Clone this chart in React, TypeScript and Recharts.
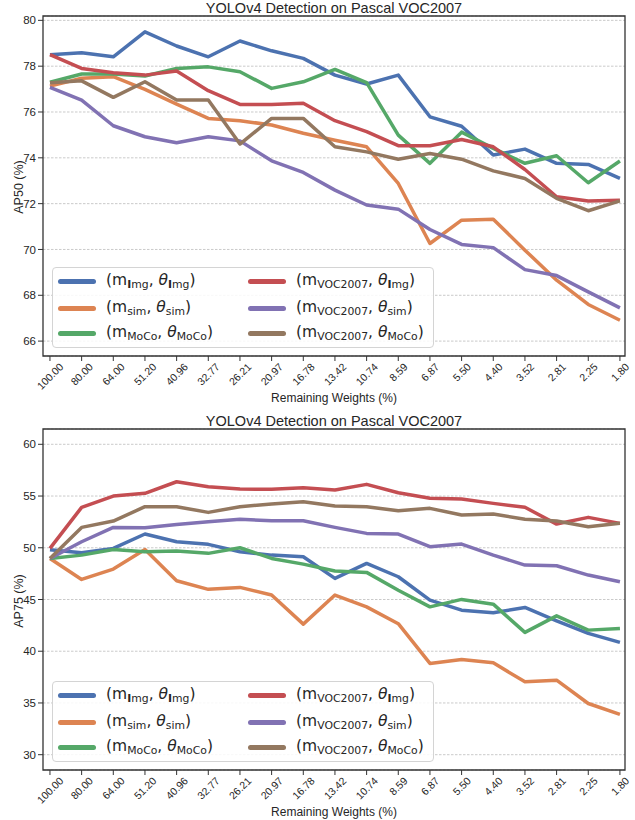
import React from "react";
import { LineChart, Line, XAxis, YAxis, CartesianGrid, ReferenceArea } from "recharts";

// remaining weights (%) — x categories
const xLabels = ["100.00", "80.00", "64.00", "51.20", "40.96", "32.77", "26.21", "20.97", "16.78", "13.42", "10.74", "8.59", "6.87", "5.50", "4.40", "3.52", "2.81", "2.25", "1.80"];

// AP50 (%)
const ap50ImgImg = [78.5, 78.59, 78.41, 79.5, 78.88, 78.41, 79.1, 78.67, 78.34, 77.61, 77.22, 77.61, 75.79, 75.38, 74.12, 74.38, 73.76, 73.71, 73.1];
const ap50SimSim = [77.13, 77.47, 77.54, 76.99, 76.34, 75.72, 75.62, 75.43, 75.07, 74.77, 74.48, 72.88, 70.26, 71.28, 71.32, 69.97, 68.66, 67.6, 66.91];
const ap50MocoMoco = [77.3, 77.66, 77.66, 77.57, 77.9, 77.97, 77.76, 77.03, 77.32, 77.86, 77.28, 74.99, 73.76, 75.12, 74.41, 73.76, 74.09, 72.91, 73.86];
const ap50VocImg = [78.5, 77.9, 77.71, 77.61, 77.79, 76.93, 76.33, 76.33, 76.38, 75.62, 75.14, 74.53, 74.53, 74.8, 74.48, 73.49, 72.3, 72.12, 72.15];
const ap50VocSim = [77.07, 76.52, 75.4, 74.92, 74.66, 74.92, 74.74, 73.87, 73.36, 72.59, 71.94, 71.76, 70.87, 70.22, 70.08, 69.12, 68.86, 68.15, 67.45];
const ap50VocMoco = [77.28, 77.36, 76.64, 77.32, 76.52, 76.52, 74.6, 75.72, 75.72, 74.48, 74.26, 73.94, 74.19, 73.94, 73.43, 73.1, 72.23, 71.69, 72.12];

// AP75 (%)
const ap75ImgImg = [49.8, 49.52, 49.94, 51.33, 50.58, 50.33, 49.61, 49.29, 49.13, 47.04, 48.49, 47.2, 44.94, 43.97, 43.71, 44.23, 42.94, 41.72, 40.85];
const ap75SimSim = [48.97, 46.94, 47.94, 49.84, 46.81, 45.98, 46.17, 45.43, 42.62, 45.43, 44.29, 42.66, 38.82, 39.21, 38.88, 37.04, 37.2, 34.95, 33.89];
const ap75MocoMoco = [48.97, 49.29, 49.84, 49.61, 49.68, 49.46, 50.0, 48.97, 48.42, 47.75, 47.62, 45.9, 44.29, 45.01, 44.55, 41.82, 43.42, 42.04, 42.2];
const ap75VocImg = [49.94, 53.91, 55.0, 55.26, 56.38, 55.9, 55.68, 55.65, 55.8, 55.58, 56.13, 55.32, 54.78, 54.71, 54.29, 53.91, 52.29, 52.94, 52.36];
const ap75VocSim = [48.97, 50.58, 51.97, 51.94, 52.26, 52.52, 52.75, 52.61, 52.61, 51.97, 51.39, 51.33, 50.1, 50.36, 49.29, 48.33, 48.26, 47.36, 46.71];
const ap75VocMoco = [48.97, 51.97, 52.58, 53.97, 53.97, 53.42, 53.97, 54.23, 54.45, 54.03, 53.97, 53.58, 53.81, 53.16, 53.26, 52.75, 52.58, 52.03, 52.36];

const ap50Ticks = [66, 68, 70, 72, 74, 76, 78, 80];
const ap75Ticks = [30, 35, 40, 45, 50, 55, 60];

const series = [
  { key: "imgImg", color: "#4C72B0", m: "Img", t: "Img" },
  { key: "simSim", color: "#DD8452", m: "sim", t: "sim" },
  { key: "mocoMoco", color: "#55A868", m: "MoCo", t: "MoCo" },
  { key: "vocImg", color: "#C44E52", m: "VOC2007", t: "Img" },
  { key: "vocSim", color: "#8172B3", m: "VOC2007", t: "sim" },
  { key: "vocMoco", color: "#937860", m: "VOC2007", t: "MoCo" },
];

const buildRows = (cols: number[][]) =>
  xLabels.map((_, i) => {
    const row: Record<string, number> = { i };
    series.forEach((s, k) => { row[s.key] = cols[k][i]; });
    return row;
  });

const ap50Rows = buildRows([ap50ImgImg, ap50SimSim, ap50MocoMoco, ap50VocImg, ap50VocSim, ap50VocMoco]);
const ap75Rows = buildRows([ap75ImgImg, ap75SimSim, ap75MocoMoco, ap75VocImg, ap75VocSim, ap75VocMoco]);

const xDomain: [number, number] = [-0.22, 18.16];
const xTicks = xLabels.map((_, i) => i);
const ink = "#262626";

function XTick({ x, y, payload }: any) {
  const label = xLabels[payload.value];
  const fs = 10.5;
  const w = [...label].reduce((s, c) => s + (c === "." ? 0.278 : 0.556), 0) * fs;
  const half = (w + fs * 0.72) / Math.SQRT2 / 2;
  const cy = y + half;
  return (
    <text x={x} y={cy} transform={`rotate(-45 ${x} ${cy})`} textAnchor="middle"
      dominantBaseline="central" fontSize={fs} fill={ink}>{label}</text>
  );
}

function Sub({ text }: { text: string }) {
  // the "I" of Img comes out heavy in the original
  const first = text === "Img" ? <b>I</b> : null;
  return (
    <span style={{ fontSize: "0.7em", position: "relative", top: "0.3em" }}>
      {first}{text === "Img" ? "mg" : text}
    </span>
  );
}

function LegendBox({ left, top }: { left: number; top: number }) {
  const rowY = [13, 40, 65];
  return (
    <div style={{
      position: "absolute", left, top, width: 382, height: 81, boxSizing: "border-box",
      border: "1px solid #d4d4d4", borderRadius: 4, background: "rgba(255,255,255,0.85)",
    }}>
      {series.map((s, k) => {
        const col = Math.floor(k / 3);
        const cy = rowY[k % 3];
        return (
          <div key={s.key}>
            <div style={{
              position: "absolute", left: col ? 195 : 5, top: cy - 2.5, width: 38, height: 5,
              borderRadius: 3, background: s.color,
            }} />
            <div style={{
              position: "absolute", left: col ? 243 : 53, top: cy - 11, whiteSpace: "nowrap",
              fontFamily: "DejaVu Sans", fontSize: 15.5, lineHeight: "20px", color: ink,
            }}>
              (m<Sub text={s.m} />, <i>θ</i><Sub text={s.t} />)
            </div>
          </div>
        );
      })}
    </div>
  );
}

function Panel({ top, rows, domain, ticks, yLabel, marginTop, axisHeight }: {
  top: number; rows: Record<string, number>[]; domain: [number, number]; ticks: number[];
  yLabel: string; marginTop: number; axisHeight: number;
}) {
  const plotTop = marginTop;
  const plotBottom = 410 - axisHeight;
  return (
    <div style={{ position: "absolute", left: 0, top, width: 635, height: 410 }}>
      <div style={{
        position: "absolute", left: 0, width: 668, top: plotTop - 17, textAlign: "center",
        fontSize: 14.5, lineHeight: "18px", color: ink,
      }}>YOLOv4 Detection on Pascal VOC2007</div>
      <div style={{
        position: "absolute", left: 0, width: 668, top: plotBottom + 34, textAlign: "center",
        fontSize: 12, lineHeight: "16px", color: ink,
      }}>Remaining Weights (%)</div>
      <div style={{
        position: "absolute", left: 19, top: (plotTop + plotBottom) / 2 + 1, whiteSpace: "nowrap",
        transform: "translate(-50%, -50%) rotate(-90deg)", fontSize: 12.5, color: ink,
      }}>{yLabel}</div>
      <LineChart width={635} height={410} data={rows}
        margin={{ top: marginTop, right: 10, bottom: 0, left: 0 }}
        style={{ position: "absolute", left: 0, top: 0, fontFamily: "Liberation Sans, Arial, sans-serif" }}>
        <CartesianGrid vertical={false} stroke="#bdbdbd" strokeWidth={0.8} strokeDasharray="2.5 1.5" />
        <XAxis dataKey="i" type="number" domain={xDomain} ticks={xTicks} allowDataOverflow
          height={axisHeight} axisLine={false} tickLine={{ stroke: "#333", strokeWidth: 1 }}
          tickSize={5} tickMargin={1} interval={0} tick={<XTick />} />
        <YAxis type="number" domain={domain} ticks={ticks} allowDataOverflow width={43}
          axisLine={false} tickLine={{ stroke: "#333", strokeWidth: 1 }} tickSize={5} tickMargin={2}
          tick={{ fill: ink, fontSize: 11.5 }} />
        {series.map((s) => (
          <Line key={s.key} dataKey={s.key} type="linear" stroke={s.color} strokeWidth={3.5}
            dot={false} activeDot={false} strokeLinejoin="round" isAnimationActive={false} />
        ))}
        <ReferenceArea x1={xDomain[0]} x2={xDomain[1]} y1={domain[0]} y2={domain[1]}
          fill="none" stroke="#333" strokeWidth={1.3} ifOverflow="visible" />
      </LineChart>
      <LegendBox left={52} top={plotBottom - 89} />
    </div>
  );
}

export default function App() {
  return (
    <div style={{
      position: "absolute", left: 0, top: 0, width: 635, height: 820, background: "#fff",
      fontFamily: "Liberation Sans, Arial, sans-serif", overflow: "hidden",
    }}>
      <Panel top={0} rows={ap50Rows} domain={[65.35, 80.19]} ticks={ap50Ticks} yLabel="AP50 (%)"
        marginTop={16} axisHeight={54} />
      <Panel top={410} rows={ap75Rows} domain={[28.52, 61.48]} ticks={ap75Ticks} yLabel="AP75 (%)"
        marginTop={19} axisHeight={50} />
    </div>
  );
}
